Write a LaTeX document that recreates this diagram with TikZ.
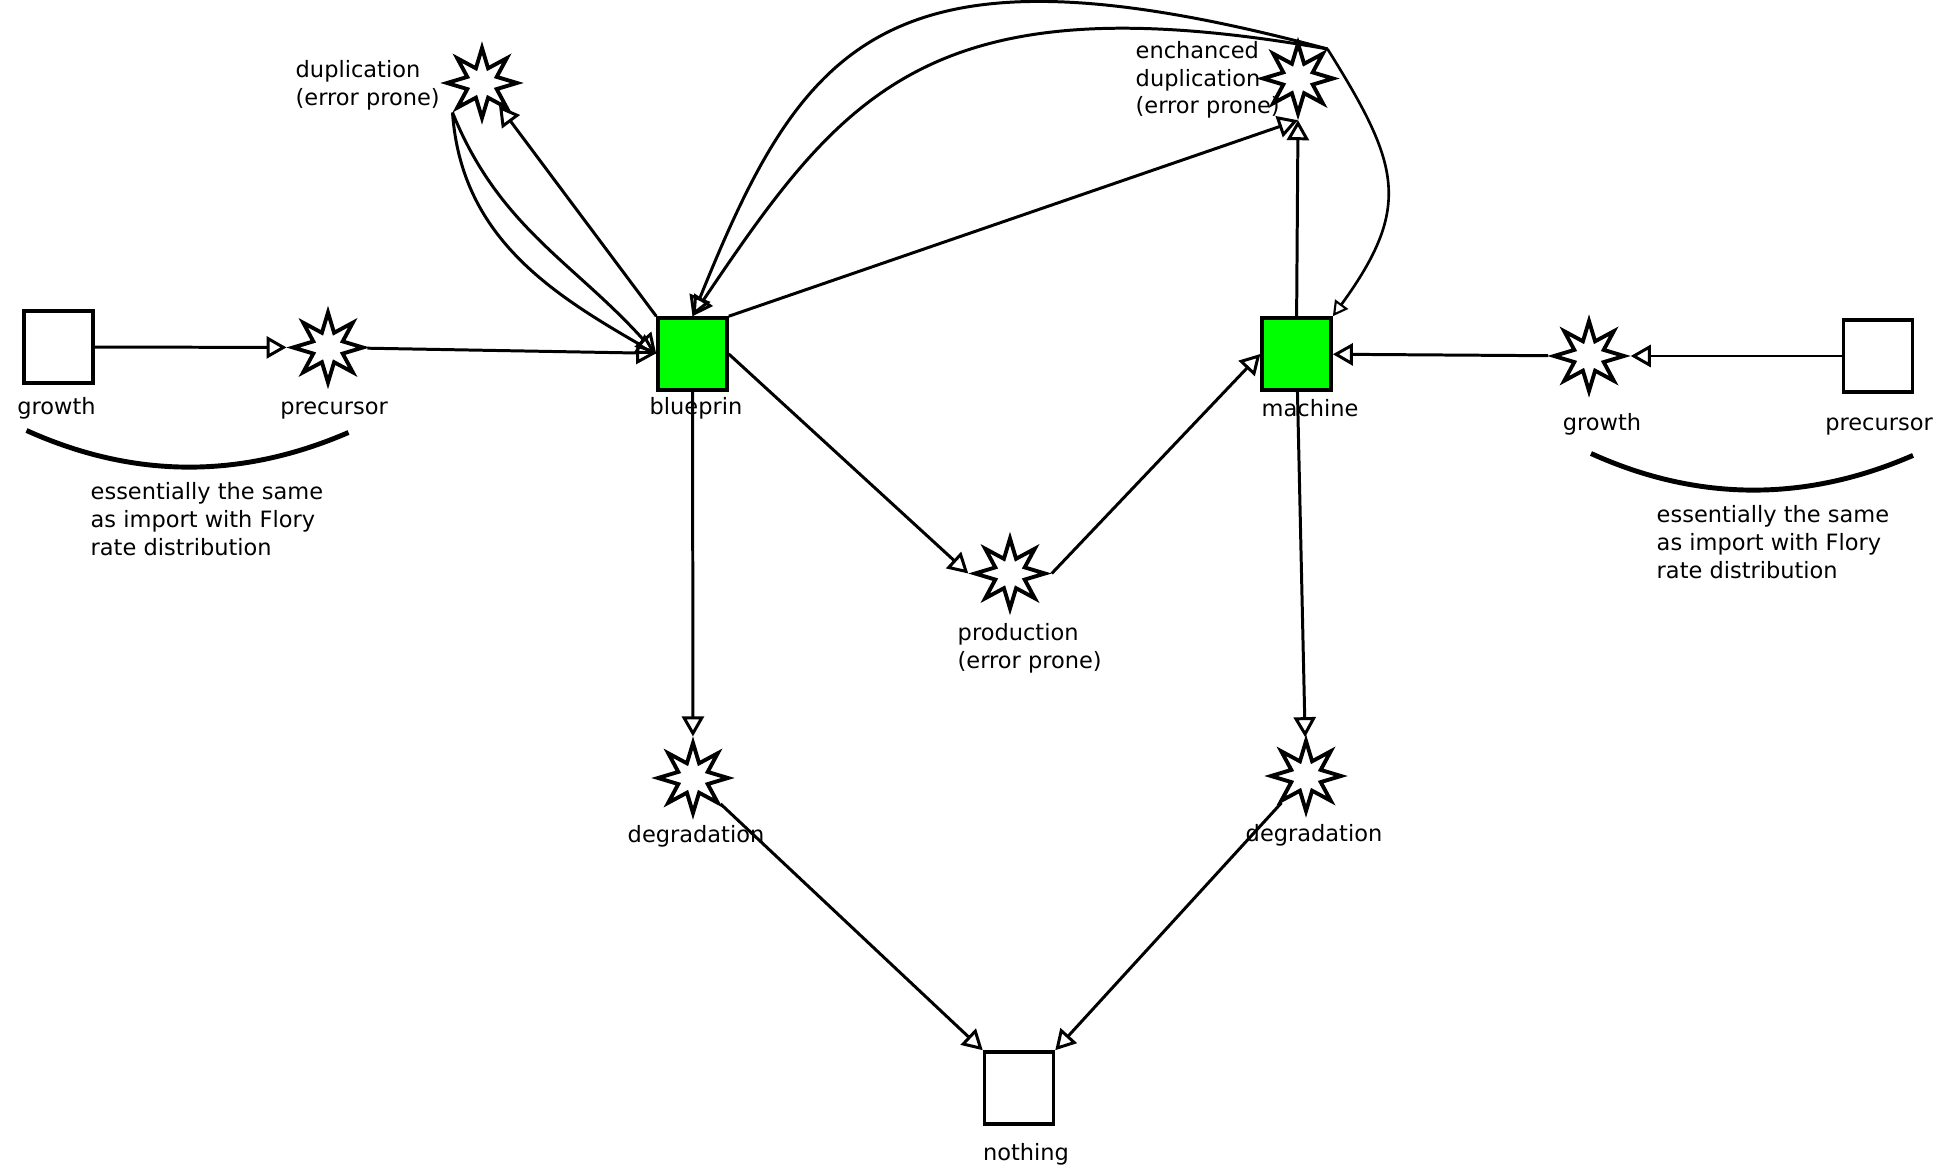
\documentclass[tikz,border=0pt]{standalone}
\definecolor{specgreen}{RGB}{0, 255, 0}
\usepackage{fontspec}
\setmainfont{DejaVu Sans}
\usepackage{tikz}
\usetikzlibrary{shapes.geometric, arrows.meta, positioning, calc}

\tikzset{
  species/.style={draw, line width=1pt, minimum width=0.69cm, minimum height=0.72cm, inner sep=0pt},
  reaction/.style={draw, star, star points=8, star point ratio=2.2, minimum size=0.7cm, inner sep=0pt, line width=1.1pt, fill=white},
  flow/.style={line width=0.85pt, -{Triangle[open, length=2mm, width=2.2mm, line width=0.85pt]}},
  thinflow/.style={line width=0.75pt, -{Triangle[open, length=1.5mm, width=1.6mm, line width=0.6pt]}},
  lbl/.style={inner sep=0pt, font=\fontsize{6.4}{7.9}\selectfont},
  bracearc/.style={line width=1.4pt},
}

\begin{document}
\begin{tikzpicture}
  \fill[white] (0,0) rectangle (19.49,-11.70);
  \useasboundingbox (0,0) rectangle (19.49,-11.70);

  % species
  \node[species] (growthL) at (0.585, -3.47) {};
  \node[species, fill=specgreen] (blue) at (6.925, -3.54) {};
  \node[species, fill=specgreen] (mach) at (12.966, -3.54) {};
  \node[species] (precR) at (18.78, -3.56) {};
  \node[species] (nothing) at (10.19, -10.88) {};

  % reactions
  \node[reaction] (precL) at (3.28, -3.475) {};
  \node[reaction] (dup) at (4.82, -0.83) {};
  \node[reaction] (edup) at (12.98, -0.785) {};
  \node[reaction] (growthR) at (15.89, -3.56) {};
  \node[reaction] (prod) at (10.10, -5.735) {};
  \node[reaction] (degL) at (6.93, -7.78) {};
  \node[reaction] (degR) at (13.06, -7.76) {};

  % labels
  \node[lbl, anchor=base] (growthLl) at (0.565, -4.15) {growth};
  \node[lbl, anchor=base] (precLl) at (3.34, -4.15) {precursor};
  \node[lbl, anchor=base] (bluel) at (6.96, -4.15) {blueprin};
  \node[lbl, anchor=base] (machl) at (13.10, -4.17) {machine};
  \node[lbl, anchor=base] (growthRl) at (16.02, -4.31) {growth};
  \node[lbl, anchor=base] (precRl) at (18.79, -4.31) {precursor};
  \node[lbl, anchor=base] (degLl) at (6.96, -8.42) {degradation};
  \node[lbl, anchor=base] (degRl) at (13.14, -8.41) {degradation};
  \node[lbl, anchor=base] (nothingl) at (10.26, -11.60) {nothing};
  \node[lbl, anchor=north west, align=left] (dupl) at (2.95, -0.596) {duplication\\(error prone)};
  \node[lbl, anchor=north west, align=left] (edupl) at (11.35, -0.405) {enchanced\\duplication\\(error prone)};
  \node[lbl, anchor=north west, align=left] (prodl) at (9.57, -6.23) {production\\(error prone)};
  \node[lbl, anchor=north west, align=left] (noteL) at (0.90, -4.82) {essentially the same\\as import with Flory\\rate distribution};
  \node[lbl, anchor=north west, align=left] (noteR) at (16.56, -5.05) {essentially the same\\as import with Flory\\rate distribution};

  % arcs under the import pairs
  \draw[bracearc] (0.265,-4.305) .. controls (1.34,-4.79) and (2.41,-4.79) .. (3.485,-4.325);
  \draw[bracearc] (15.91,-4.535) .. controls (16.98,-5.02) and (18.06,-5.02) .. (19.13,-4.554);

  % connectors
  \draw[flow] (growthL) -- (precL);
  \draw[flow] (precL) -- (blue);
  \draw[flow] (blue.north west) -- (dup);
  \draw[flow] (dup.outer point 4) to[out=-86, in=150] (blue.west);
  \draw[flow] (dup.outer point 4) to[out=-68, in=132] (blue.west);
  \draw[flow] (blue.north east) -- (edup.outer point 5);
  \draw[flow] (mach.north) -- (edup.outer point 5);
  \draw[flow] (edup.outer point 8) to[out=165, in=68, out looseness=1.7, in looseness=1.1] (blue.north);
  \draw[flow] (edup.outer point 8) to[out=170, in=56, out looseness=1.5, in looseness=1.0] (blue.north);
  \draw[thinflow] (edup.outer point 8) to[out=-58, in=54, looseness=1.3] (mach.north east);
  \draw[flow] (blue.east) -- (prod.outer point 3);
  \draw[flow] (prod.outer point 7) -- (mach.west);
  \draw[flow] (precR) -- (growthR);
  \draw[flow] (growthR) -- (mach);
  \draw[flow] (blue) -- (degL);
  \draw[flow] (mach) -- (degR);
  \draw[flow] (degL) -- (nothing.north west);
  \draw[flow] (degR) -- (nothing.north east);
\end{tikzpicture}
\end{document}
